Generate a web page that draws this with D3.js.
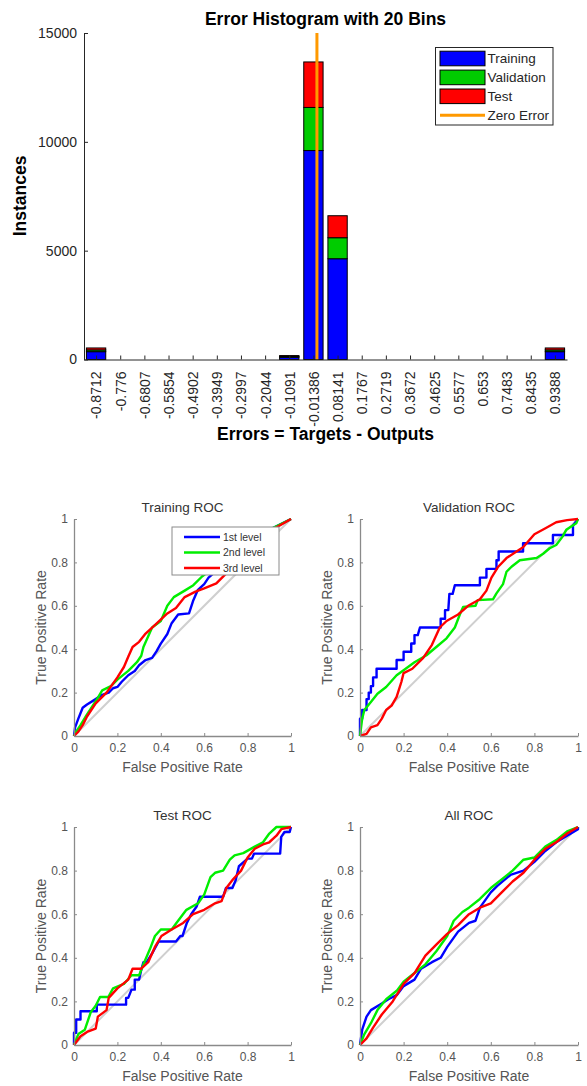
<!DOCTYPE html>
<html>
<head>
<meta charset="utf-8">
<script src="https://cdn.jsdelivr.net/npm/d3@7"></script>
<style>
  html, body { margin: 0; padding: 0; background: #fff; }
  svg { display: block; font-family: "Liberation Sans", Arial, Helvetica, sans-serif; }
</style>
</head>
<body>
<svg id="chart" width="587" height="1086"></svg>
<script>
// ---------- Error histogram data ----------
const binLabels = ["-0.8712","-0.776","-0.6807","-0.5854","-0.4902","-0.3949","-0.2997","-0.2044","-0.1091","-0.01386",
                   "0.08141","0.1767","0.2719","0.3672","0.4625","0.5577","0.653","0.7483","0.8435","0.9388"];
const binCenters = binLabels.map(Number);
const trainingCounts   = [360,0,0,0,0,0,0,0,100,9600,4630,0,0,0,0,0,0,0,0,360];
const validationCounts = [80,0,0,0,0,0,0,0,40,1980,965,0,0,0,0,0,0,0,0,80];
const testCounts       = [90,0,0,0,0,0,0,0,40,2090,1010,0,0,0,0,0,0,0,0,90];
const histTicks = [0,5000,10000,15000];
const histSeries = ["Training","Validation","Test"];

// ---------- ROC curves: [false positive rate, true positive rate] ----------
const trainingL1 = [[0,0],[0.005,0.04],[0.02,0.08],[0.04,0.13],[0.06,0.145],[0.1,0.17],[0.13,0.19],[0.16,0.2],[0.18,0.22],[0.2,0.226],[0.22,0.25],[0.25,0.28],[0.28,0.3],[0.3,0.326],[0.33,0.35],[0.36,0.36],[0.38,0.39],[0.4,0.426],[0.43,0.47],[0.45,0.52],[0.48,0.56],[0.53,0.565],[0.55,0.626],[0.57,0.672],[0.6,0.7],[0.62,0.73],[0.7,0.8],[0.8,0.87],[0.9,0.95],[1,1]];
const trainingL2 = [[0,0],[0.01,0.02],[0.03,0.05],[0.06,0.1],[0.1,0.16],[0.13,0.21],[0.17,0.23],[0.2,0.26],[0.25,0.3],[0.29,0.34],[0.31,0.37],[0.32,0.41],[0.36,0.5],[0.4,0.53],[0.43,0.6],[0.46,0.64],[0.51,0.67],[0.55,0.695],[0.59,0.735],[0.7,0.82],[0.8,0.88],[0.9,0.95],[1,1]];
const trainingL3 = [[0,0],[0.02,0.02],[0.04,0.05],[0.06,0.09],[0.1,0.15],[0.15,0.2],[0.2,0.27],[0.23,0.318],[0.25,0.365],[0.27,0.41],[0.3,0.434],[0.33,0.472],[0.38,0.518],[0.43,0.565],[0.47,0.59],[0.51,0.64],[0.56,0.665],[0.6,0.68],[0.656,0.703],[0.687,0.734],[0.75,0.8],[0.85,0.9],[0.93,0.96],[1,1]];

const validationL1 = [[0,0],[0,0.08],[0.01,0.08],[0.01,0.12],[0.03,0.12],[0.03,0.17],[0.04,0.17],[0.04,0.2],[0.05,0.2],[0.05,0.23],[0.06,0.23],[0.06,0.27],[0.076,0.27],[0.076,0.31],[0.168,0.31],[0.168,0.35],[0.2,0.35],[0.2,0.388],[0.235,0.388],[0.235,0.426],[0.25,0.426],[0.25,0.465],[0.265,0.465],[0.275,0.5],[0.37,0.5],[0.37,0.54],[0.39,0.54],[0.39,0.58],[0.405,0.58],[0.41,0.655],[0.425,0.655],[0.435,0.695],[0.55,0.695],[0.55,0.73],[0.58,0.73],[0.58,0.77],[0.626,0.77],[0.626,0.81],[0.636,0.81],[0.636,0.85],[0.748,0.85],[0.748,0.888],[0.885,0.888],[0.885,0.926],[0.977,0.926],[0.977,0.97],[1,1]];
const validationL2 = [[0,0],[0.01,0.08],[0.02,0.12],[0.05,0.157],[0.08,0.195],[0.12,0.226],[0.168,0.28],[0.2,0.303],[0.25,0.34],[0.305,0.372],[0.35,0.41],[0.397,0.45],[0.435,0.5],[0.458,0.56],[0.473,0.595],[0.53,0.6],[0.54,0.626],[0.61,0.63],[0.626,0.657],[0.656,0.7],[0.672,0.757],[0.695,0.78],[0.733,0.81],[0.81,0.82],[0.84,0.84],[0.87,0.865],[0.9,0.88],[0.93,0.92],[0.946,0.95],[0.992,0.98],[1,1]];
const validationL3 = [[0,0],[0.03,0.01],[0.05,0.04],[0.08,0.05],[0.1,0.08],[0.12,0.12],[0.145,0.14],[0.168,0.18],[0.19,0.25],[0.2,0.29],[0.24,0.31],[0.29,0.36],[0.33,0.42],[0.366,0.5],[0.397,0.53],[0.45,0.56],[0.496,0.6],[0.55,0.63],[0.58,0.67],[0.603,0.73],[0.634,0.78],[0.672,0.82],[0.718,0.85],[0.748,0.87],[0.8,0.93],[0.855,0.96],[0.9,0.985],[0.95,0.995],[1,1]];

const testL1 = [[0,0],[0,0.056],[0.01,0.056],[0.01,0.117],[0.03,0.117],[0.03,0.155],[0.105,0.155],[0.105,0.185],[0.24,0.185],[0.24,0.216],[0.25,0.216],[0.265,0.254],[0.28,0.254],[0.28,0.3],[0.3,0.3],[0.31,0.345],[0.32,0.38],[0.335,0.38],[0.36,0.42],[0.39,0.475],[0.47,0.475],[0.49,0.5],[0.5,0.5],[0.52,0.56],[0.54,0.6],[0.565,0.635],[0.58,0.68],[0.687,0.68],[0.7,0.72],[0.73,0.72],[0.745,0.756],[0.76,0.82],[0.8,0.855],[0.82,0.855],[0.83,0.878],[0.95,0.878],[0.955,0.955],[0.97,0.977],[0.994,0.977],[1,1]];
const testL2 = [[0,0],[0.02,0.05],[0.05,0.07],[0.077,0.15],[0.1,0.18],[0.12,0.22],[0.158,0.22],[0.18,0.26],[0.23,0.28],[0.265,0.32],[0.3,0.32],[0.32,0.37],[0.35,0.44],[0.373,0.5],[0.4,0.53],[0.45,0.53],[0.472,0.56],[0.518,0.62],[0.572,0.65],[0.6,0.69],[0.629,0.77],[0.65,0.79],[0.687,0.8],[0.718,0.85],[0.74,0.87],[0.78,0.88],[0.833,0.91],[0.871,0.93],[0.9,0.97],[0.933,1],[1,1]];
const testL3 = [[0,0],[0.03,0.04],[0.06,0.06],[0.1,0.075],[0.11,0.13],[0.15,0.16],[0.16,0.216],[0.2,0.26],[0.25,0.3],[0.27,0.35],[0.31,0.35],[0.342,0.38],[0.373,0.45],[0.403,0.5],[0.45,0.53],[0.503,0.56],[0.549,0.6],[0.6,0.62],[0.65,0.65],[0.68,0.66],[0.702,0.72],[0.733,0.76],[0.77,0.8],[0.8,0.86],[0.833,0.9],[0.871,0.92],[0.9,0.93],[0.933,0.96],[0.955,0.99],[1,1]];

const allL1 = [[0,0],[0.01,0.07],[0.03,0.13],[0.05,0.16],[0.1,0.19],[0.13,0.21],[0.17,0.23],[0.2,0.27],[0.25,0.3],[0.28,0.35],[0.33,0.38],[0.37,0.4],[0.4,0.45],[0.45,0.52],[0.5,0.56],[0.53,0.57],[0.55,0.63],[0.6,0.7],[0.63,0.73],[0.69,0.78],[0.75,0.8],[0.8,0.84],[0.85,0.89],[0.9,0.93],[0.95,0.96],[1,0.99],[1,1]];
const allL2 = [[0,0],[0.02,0.05],[0.05,0.1],[0.08,0.16],[0.12,0.21],[0.17,0.25],[0.2,0.29],[0.25,0.33],[0.3,0.37],[0.35,0.43],[0.4,0.5],[0.43,0.57],[0.47,0.61],[0.5,0.63],[0.55,0.67],[0.6,0.72],[0.65,0.76],[0.7,0.8],[0.75,0.85],[0.8,0.86],[0.85,0.91],[0.9,0.94],[0.95,0.98],[1,1]];
const allL3 = [[0,0],[0.03,0.03],[0.06,0.08],[0.1,0.14],[0.15,0.2],[0.2,0.28],[0.25,0.33],[0.3,0.41],[0.35,0.46],[0.4,0.51],[0.45,0.55],[0.5,0.6],[0.55,0.63],[0.6,0.65],[0.65,0.7],[0.7,0.75],[0.75,0.79],[0.8,0.85],[0.85,0.9],[0.9,0.93],[0.95,0.97],[1,1]];

const rocTicks = [0,0.2,0.4,0.6,0.8,1];
const levelNames = ["1st level","2nd level","3rd level"];
const levelColors = ["#0000ff","#00ee00","#ff0000"];

const svg = d3.select("#chart");

// ================= Error histogram =================
const binW = (binCenters[19] - binCenters[0]) / 19;
const hx = d3.scaleLinear()
  .domain([binCenters[0] - binW / 2, binCenters[19] + binW / 2])
  .range([84, 567]);
const hy = d3.scaleLinear().domain([0, 15000]).range([359.5, 33]);
const histColors = { Training: "#0000ff", Validation: "#00cc00", Test: "#ff0000" };

const rows = binCenters.map((c, i) => ({
  center: c, Training: trainingCounts[i], Validation: validationCounts[i], Test: testCounts[i]
}));
const stacked = d3.stack().keys(histSeries)(rows);
const barW = (hx(binW) - hx(0)) * 0.8;

const hist = svg.append("g");
stacked.forEach(layer => {
  hist.append("g").selectAll("rect")
    .data(layer.filter(d => d[1] - d[0] > 0))
    .join("rect")
    .attr("x", d => hx(d.data.center) - barW / 2)
    .attr("y", d => hy(d[1]))
    .attr("width", barW)
    .attr("height", d => hy(d[0]) - hy(d[1]))
    .attr("fill", histColors[layer.key])
    .attr("stroke", "#000")
    .attr("stroke-width", 1);
});

// zero error marker
hist.append("line")
  .attr("x1", hx(0)).attr("x2", hx(0))
  .attr("y1", hy(15000)).attr("y2", hy(0))
  .attr("stroke", "#ff9900").attr("stroke-width", 3);

const hyAxis = hist.append("g").attr("transform", "translate(84,0)")
  .call(d3.axisLeft(hy).tickValues(histTicks).tickFormat(d3.format("d")).tickSize(-4).tickSizeOuter(0).tickPadding(7));
hyAxis.selectAll("text").attr("font-size", 14).attr("fill", "#262626");

const hxAxis = hist.append("g").attr("transform", "translate(0,359.5)")
  .call(d3.axisBottom(hx).tickValues(binCenters).tickFormat((d, i) => binLabels[i]).tickSize(-4).tickSizeOuter(0));
hxAxis.selectAll("text")
  .attr("transform", "rotate(-90)")
  .attr("text-anchor", "end")
  .attr("x", -12).attr("y", 0).attr("dy", "0.35em")
  .attr("font-size", 14).attr("fill", "#262626");
[hyAxis, hxAxis].forEach(a => {
  a.select(".domain").attr("stroke", "#262626");
  a.selectAll(".tick line").attr("stroke", "#262626");
});

hist.append("text").attr("x", 325.5).attr("y", 25).attr("text-anchor", "middle")
  .attr("font-size", 17.5).attr("font-weight", "bold").attr("fill", "#000")
  .text("Error Histogram with 20 Bins");
hist.append("text").attr("x", 325.5).attr("y", 440).attr("text-anchor", "middle")
  .attr("font-size", 17.5).attr("font-weight", "bold").attr("fill", "#000")
  .text("Errors = Targets - Outputs");
hist.append("text").attr("transform", "translate(25.5,196) rotate(-90)").attr("text-anchor", "middle")
  .attr("font-size", 17.5).attr("font-weight", "bold").attr("fill", "#000")
  .text("Instances");

// histogram legend
const hLeg = hist.append("g").attr("transform", "translate(435.5,47.5)");
hLeg.append("rect").attr("width", 117.5).attr("height", 77.5)
  .attr("fill", "#fff").attr("stroke", "#262626").attr("stroke-width", 1);
const hLegItems = histSeries.concat(["Zero Error"]);
hLegItems.forEach((name, i) => {
  const cy = 11 + i * 18.9;
  if (name === "Zero Error") {
    hLeg.append("line").attr("x1", 4.5).attr("x2", 49.5).attr("y1", cy).attr("y2", cy)
      .attr("stroke", "#ff9900").attr("stroke-width", 3);
  } else {
    hLeg.append("rect").attr("x", 4.5).attr("y", cy - 7.3).attr("width", 45).attr("height", 14.6)
      .attr("fill", histColors[name]).attr("stroke", "#000").attr("stroke-width", 1);
  }
  hLeg.append("text").attr("x", 52).attr("y", cy).attr("dy", "0.36em")
    .attr("font-size", 13.5).attr("fill", "#262626").text(name);
});

// ================= ROC panels =================
function drawRoc(box, title, curves, withLegend) {
  const x = d3.scaleLinear().domain([0, 1]).range([box.x0, box.x1]);
  const y = d3.scaleLinear().domain([0, 1]).range([box.y1, box.y0]);
  const g = svg.append("g");
  const line = d3.line().x(d => x(d[0])).y(d => y(d[1]));

  g.append("path").datum([[0, 0], [1, 1]]).attr("d", line)
    .attr("fill", "none").attr("stroke", "#cfcfcf").attr("stroke-width", 2);

  curves.forEach((c, i) => {
    g.append("path").datum(c).attr("d", line)
      .attr("fill", "none").attr("stroke", levelColors[i])
      .attr("stroke-width", 2.4).attr("stroke-linejoin", "round");
  });

  const fmt = d => (d === 0 || d === 1) ? String(d) : d.toFixed(1);
  const ax = g.append("g").attr("transform", `translate(0,${box.y1})`)
    .call(d3.axisBottom(x).tickValues(rocTicks).tickFormat(fmt).tickSize(-3).tickSizeOuter(0).tickPadding(7));
  const ay = g.append("g").attr("transform", `translate(${box.x0},0)`)
    .call(d3.axisLeft(y).tickValues(rocTicks).tickFormat(fmt).tickSize(-3).tickSizeOuter(0).tickPadding(6));
  [ax, ay].forEach(a => {
    a.select(".domain").attr("stroke", "#8a8a8a").attr("stroke-width", 1.3);
    a.selectAll(".tick line").attr("stroke", "#8a8a8a");
    a.selectAll("text").attr("font-size", 12).attr("fill", "#555");
  });

  const cx = (box.x0 + box.x1) / 2, cy = (box.y0 + box.y1) / 2;
  g.append("text").attr("x", cx).attr("y", box.y0 - 7).attr("text-anchor", "middle")
    .attr("font-size", 13.5).attr("fill", "#333").text(title);
  g.append("text").attr("x", cx).attr("y", box.y1 + 36).attr("text-anchor", "middle")
    .attr("font-size", 14).attr("fill", "#555").text("False Positive Rate");
  g.append("text").attr("transform", `translate(${box.x0 - 28},${cy}) rotate(-90)`).attr("text-anchor", "middle")
    .attr("font-size", 14).attr("fill", "#555").text("True Positive Rate");

  if (withLegend) {
    const lg = g.append("g").attr("transform", `translate(${box.x0 + 98},${box.y0 + 8})`);
    lg.append("rect").attr("width", 107).attr("height", 48)
      .attr("fill", "#fff").attr("stroke", "#8a8a8a").attr("stroke-width", 1);
    levelNames.forEach((n, i) => {
      const ly = 10 + i * 15.5;
      lg.append("line").attr("x1", 12).attr("x2", 48).attr("y1", ly).attr("y2", ly)
        .attr("stroke", levelColors[i]).attr("stroke-width", 2.4);
      lg.append("text").attr("x", 51).attr("y", ly).attr("dy", "0.35em")
        .attr("font-size", 10.5).attr("fill", "#333").text(n);
    });
  }
}

drawRoc({ x0: 74, x1: 291, y0: 519, y1: 736 }, "Training ROC", [trainingL1, trainingL2, trainingL3], true);
drawRoc({ x0: 360, x1: 578, y0: 519, y1: 736 }, "Validation ROC", [validationL1, validationL2, validationL3], false);
drawRoc({ x0: 74, x1: 291, y0: 827, y1: 1045 }, "Test ROC", [testL1, testL2, testL3], false);
drawRoc({ x0: 360, x1: 578, y0: 827, y1: 1045 }, "All ROC", [allL1, allL2, allL3], false);
</script>
</body>
</html>
